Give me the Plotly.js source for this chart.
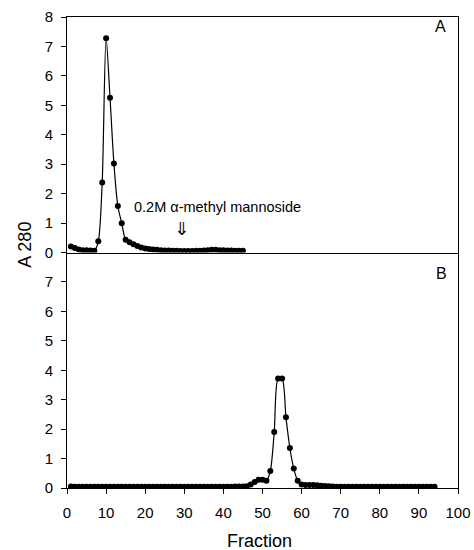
<!DOCTYPE html>
<html>
<head>
<meta charset="utf-8">
<script src="https://cdn.plot.ly/plotly-3.0.1.min.js"></script>
<style>html,body{margin:0;padding:0;background:#fff;}#chart{width:474px;height:550px;}</style>
</head>
<body>
<div id="chart"></div>
<script>
// Panel A: fractions and A280
const fracA = [1,2,3,4,5,6,7,8,9,10,11,12,13,14,15,16,17,18,19,20,21,22,23,24,25,26,27,28,29,30,31,32,33,34,35,36,37,38,39,40,41,42,43,44,45];
const absA  = [0.2,0.15,0.1,0.08,0.08,0.07,0.06,0.38,2.38,7.28,5.26,3.02,1.58,0.99,0.43,0.35,0.28,0.22,0.17,0.14,0.12,0.1,0.09,0.08,0.07,0.07,0.06,0.06,0.05,0.05,0.05,0.05,0.06,0.06,0.07,0.08,0.09,0.09,0.08,0.08,0.07,0.07,0.06,0.06,0.06];

// Panel B
const fracB = [1,2,3,4,5,6,7,8,9,10,11,12,13,14,15,16,17,18,19,20,21,22,23,24,25,26,27,28,29,30,31,32,33,34,35,36,37,38,39,40,41,42,43,44,45,46,47,48,49,50,51,52,53,54,55,56,57,58,59,60,61,62,63,64,65,66,67,68,69,70,71,72,73,74,75,76,77,78,79,80,81,82,83,84,85,86,87,88,89,90,91,92,93,94];
const absB  = [0.05,0.04,0.04,0.04,0.04,0.04,0.04,0.04,0.04,0.04,0.04,0.04,0.04,0.04,0.04,0.04,0.04,0.04,0.04,0.04,0.04,0.04,0.04,0.04,0.04,0.04,0.04,0.04,0.04,0.04,0.04,0.04,0.04,0.04,0.04,0.04,0.04,0.04,0.04,0.04,0.04,0.04,0.05,0.05,0.05,0.06,0.12,0.2,0.28,0.28,0.25,0.58,1.9,3.72,3.72,2.4,1.36,0.66,0.25,0.12,0.1,0.1,0.1,0.09,0.08,0.07,0.06,0.05,0.04,0.04,0.04,0.04,0.04,0.04,0.04,0.04,0.04,0.04,0.04,0.04,0.04,0.04,0.04,0.04,0.04,0.04,0.04,0.04,0.04,0.04,0.04,0.04,0.04,0.04];

const xTicks = [0,10,20,30,40,50,60,70,80,90,100];
const yTicksA = [0,1,2,3,4,5,6,7,8];
const yTicksB = [0,1,2,3,4,5,6,7];

const font = 'Liberation Sans, Arial, Helvetica, sans-serif';
const mk = {color:'#000', size:6};
const ln = {color:'#000', width:1.2, shape:'spline', smoothing:0.8};

const traces = [
  {x:fracA, y:absA, xaxis:'x', yaxis:'y', mode:'lines+markers', marker:mk, line:ln, hoverinfo:'x+y'},
  {x:fracB, y:absB, xaxis:'x2', yaxis:'y2', mode:'lines+markers', marker:mk, line:ln, hoverinfo:'x+y'}
];

const axBase = {showgrid:false, zeroline:false, showline:true, linecolor:'#000', linewidth:1, tickcolor:'#000', ticklen:5, tickwidth:1, tickfont:{family:font, size:15, color:'#000'}};

const layout = {
  width:474, height:550,
  margin:{l:67, r:16, t:17, b:62},
  paper_bgcolor:'#fff', plot_bgcolor:'#fff',
  showlegend:false,
  font:{family:font, color:'#000'},
  xaxis: Object.assign({}, axBase, {domain:[0,1], range:[0,100], anchor:'y', tickvals:xTicks, showticklabels:false, ticks:'', mirror:true}),
  yaxis: Object.assign({}, axBase, {domain:[0.5,1], range:[0,8], anchor:'x', tickvals:yTicksA, ticks:'outside', mirror:true, ticklabelstandoff:5}),
  xaxis2: Object.assign({}, axBase, {domain:[0,1], range:[0,100], anchor:'y2', tickvals:xTicks, ticks:'outside', ticklabelstandoff:6}),
  yaxis2: Object.assign({}, axBase, {domain:[0,0.5], range:[0,8], anchor:'x2', tickvals:yTicksB, ticks:'outside', mirror:true, ticklabelstandoff:5}),
  annotations:[
    {xref:'x', yref:'y', x:38.4, y:1.56, xanchor:'center', yanchor:'middle', text:'0.2M \u03b1-methyl mannoside', showarrow:false, font:{family:font, size:14.5, color:'#000'}},
    {xref:'x', yref:'y', x:29.3, y:0.8, xanchor:'center', yanchor:'middle', text:'\u21d3', showarrow:false, font:{family:'DejaVu Sans', size:18, color:'#000'}},
    {xref:'paper', yref:'paper', x:0.954, y:0.979, xanchor:'center', yanchor:'middle', text:'A', showarrow:false, font:{family:font, size:16, color:'#000'}},
    {xref:'paper', yref:'paper', x:0.958, y:0.456, xanchor:'center', yanchor:'middle', text:'B', showarrow:false, font:{family:font, size:16, color:'#000'}},
    {xref:'paper', yref:'paper', x:-0.107, y:0.517, xanchor:'center', yanchor:'middle', text:'A 280', textangle:-90, showarrow:false, font:{family:font, size:18, color:'#000'}},
    {xref:'paper', yref:'paper', x:0.492, y:-0.113, xanchor:'center', yanchor:'middle', text:'Fraction', showarrow:false, font:{family:font, size:18, color:'#000'}}
  ]
};

Plotly.newPlot('chart', traces, layout, {displayModeBar:false, staticPlot:true});
</script>
</body>
</html>
